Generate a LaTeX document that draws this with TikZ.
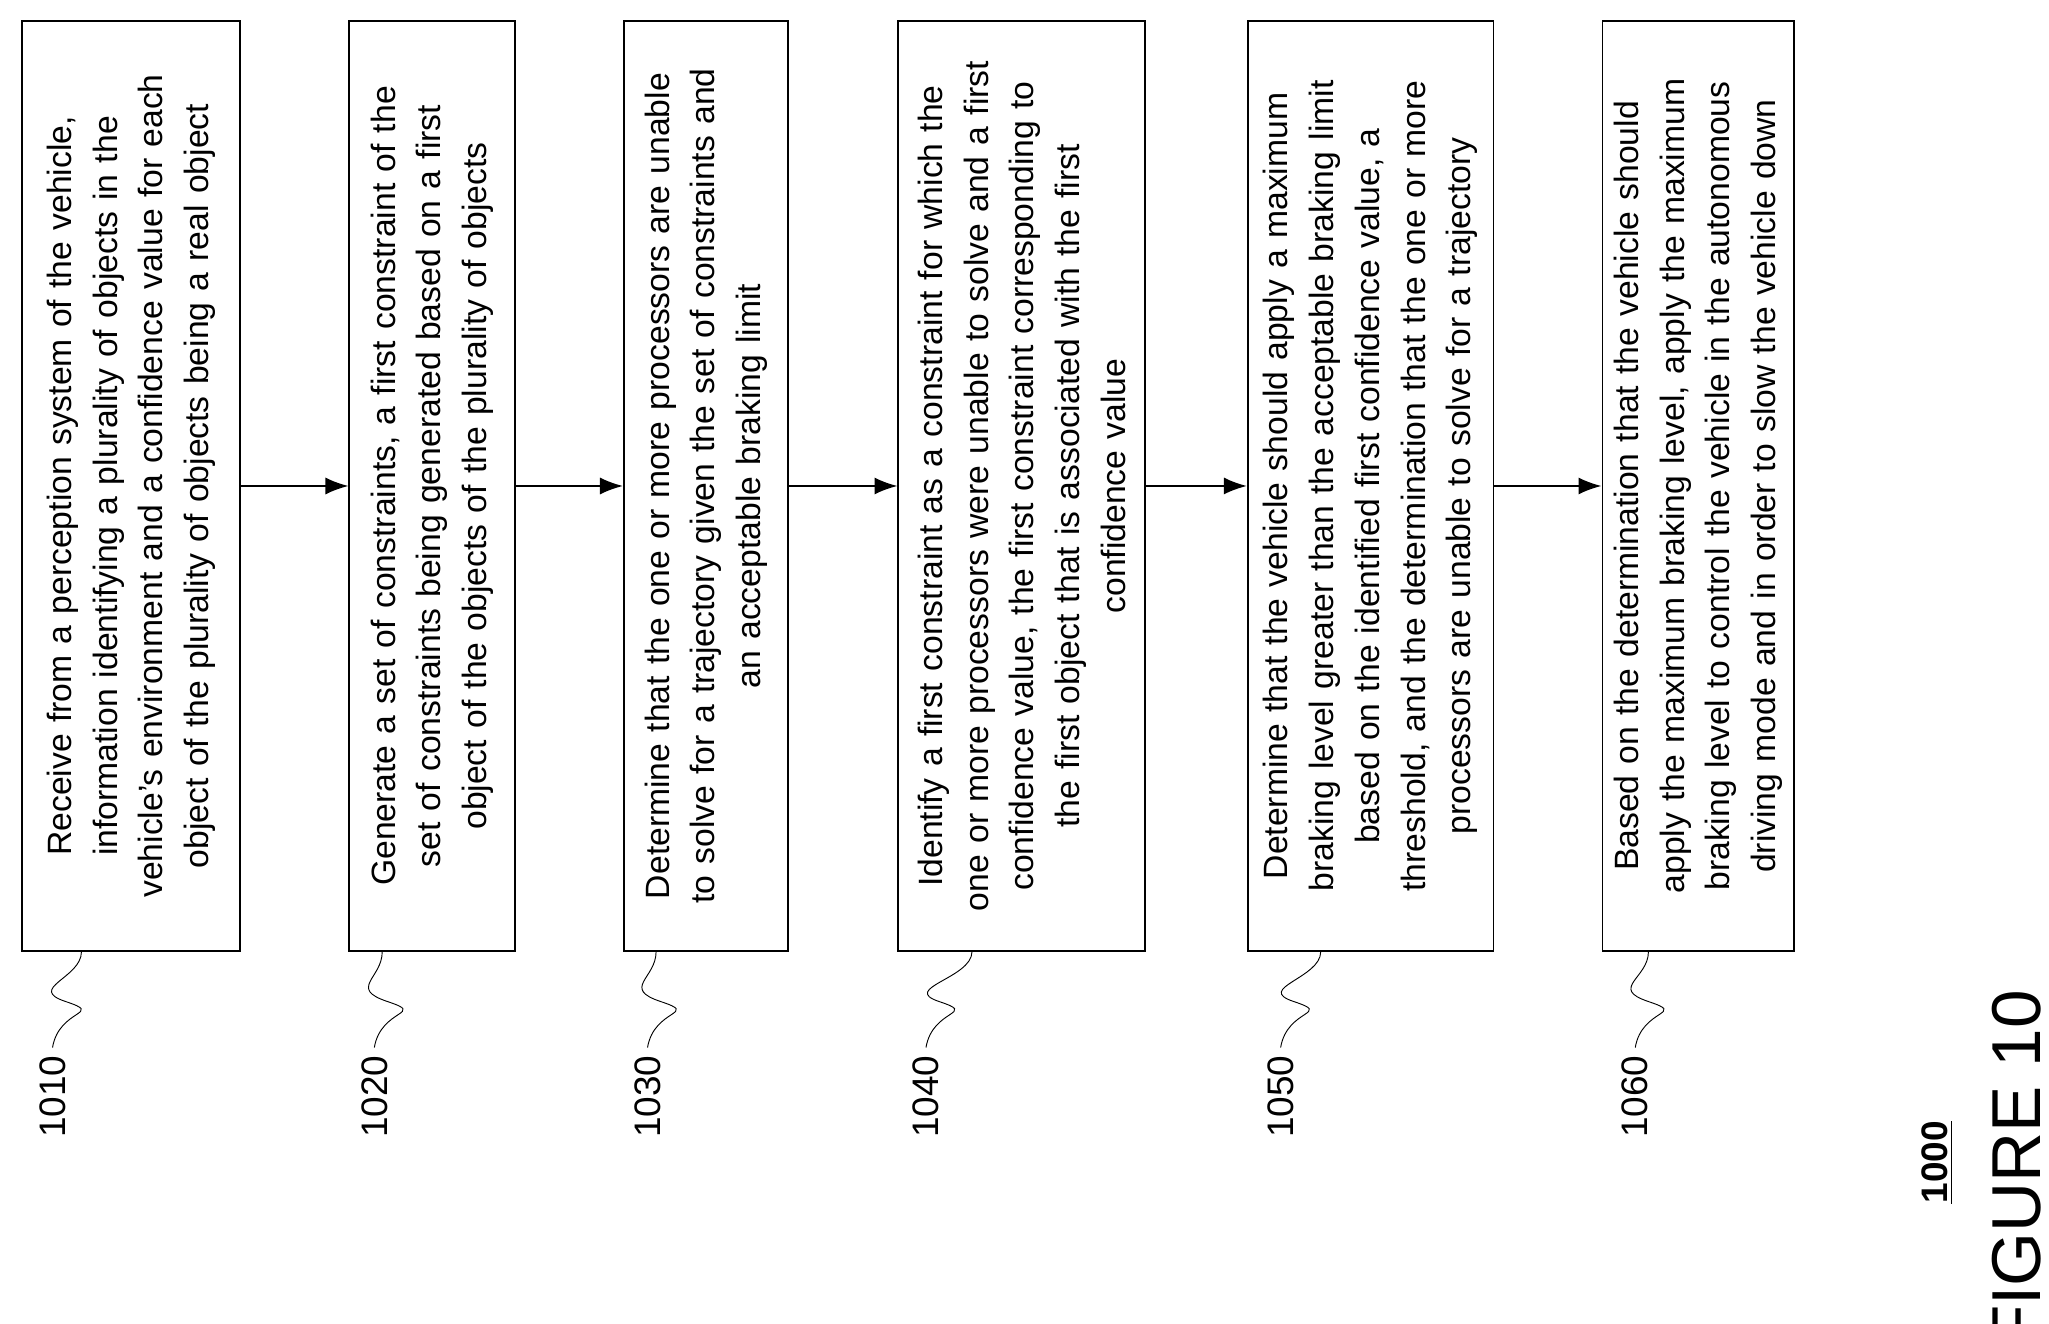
\documentclass[tikz,border=0pt]{standalone}
\usepackage{fontspec}
\setmainfont{Liberation Sans}
\usetikzlibrary{positioning, arrows.meta}

\tikzset{
  stepbox/.style={draw, thick, rotate=90, minimum width=14.16cm, text width=13.9cm,
    align=center, inner sep=0pt, font=\fontsize{14.6}{19.8}\selectfont},
  ref/.style={rotate=90, font=\fontsize{16}{18}\selectfont},
  flow/.style={-{Latex[length=3.5mm,width=2.6mm]}, thick},
  squig/.style={thin}
}

\begin{document}
\begin{tikzpicture}
\useasboundingbox (0,0) rectangle (31.2,-20.15);

\node[stepbox, minimum height=3.32cm] (b1) at (2.00,-7.4) {Receive from a perception system of the vehicle,\\ information identifying a plurality of objects in the\\ vehicle's environment and a confidence value for each\\ object of the plurality of objects being a real object};
\node[stepbox, minimum height=2.52cm] (b2) at (6.58,-7.4) {Generate a set of constraints, a first constraint of the\\ set of constraints being generated based on a first\\ object of the objects of the plurality of objects};
\node[stepbox, minimum height=2.50cm] (b3) at (10.75,-7.4) {Determine that the one or more processors are unable\\ to solve for a trajectory given the set of constraints and\\ an acceptable braking limit};
\node[stepbox, minimum height=3.76cm] (b4) at (15.56,-7.4) {Identify a first constraint as a constraint for which the\\ one or more processors were unable to solve and a first\\ confidence value, the first constraint corresponding to\\ the first object that is associated with the first\\ confidence value};
\node[stepbox, minimum height=3.74cm] (b5) at (20.87,-7.4) {Determine that the vehicle should apply a maximum\\ braking level greater than the acceptable braking limit\\ based on the identified first confidence value, a\\ threshold, and the determination that the one or more\\ processors are unable to solve for a trajectory};
\node[stepbox, minimum height=2.92cm] (b6) at (25.86,-7.4) {Based on the determination that the vehicle should\\ apply the maximum braking level, apply the maximum\\ braking level to control the vehicle in the autonomous\\ driving mode and in order to slow the vehicle down};

% arrows between steps
\draw[flow] (b1) -- (b2);
\draw[flow] (b2) -- (b3);
\draw[flow] (b3) -- (b4);
\draw[flow] (b4) -- (b5);
\draw[flow] (b5) -- (b6);

% reference numerals
\node[ref] (l1) at (0.80,-16.7) {1010};
\node[ref] (l2) at (5.70,-16.7) {1020};
\node[ref] (l3) at (9.86,-16.7) {1030};
\node[ref] (l4) at (14.10,-16.7) {1040};
\node[ref] (l5) at (19.50,-16.7) {1050};
\node[ref] (l6) at (24.90,-16.7) {1060};

\foreach \i in {1,...,6}
  \draw[squig] (l\i.east) .. controls +(0.1,0.6) and +(0.6,-0.2) .. ++(0.2,0.7)
    .. controls +(-0.6,0.2) and +(0,-0.4) .. ([xshift=-0.76cm]b\i.west);

\node[rotate=90, font=\bfseries\fontsize{16}{18}\selectfont] (num) at (29.5,-17.7) {\underline{1000}};
\node[rotate=90, font=\fontsize{30}{34}\selectfont] (fig) at (30.7,-17.8) {FIGURE 10};
\end{tikzpicture}
\end{document}
